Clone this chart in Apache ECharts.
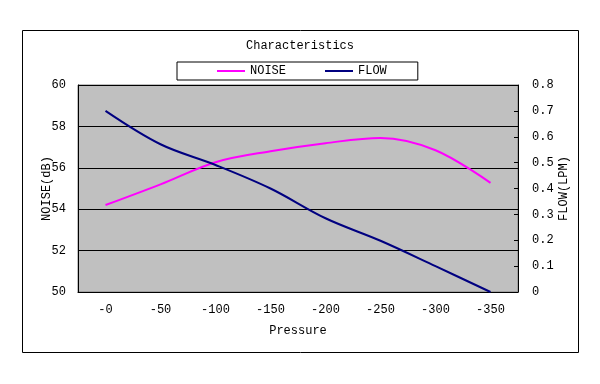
<!DOCTYPE html>
<html>
<head>
<meta charset="utf-8">
<script src="https://cdn.jsdelivr.net/npm/echarts@6/dist/echarts.min.js"></script>
<style>
html,body{margin:0;padding:0;background:#fff;}
#chart{width:600px;height:384px;}
</style>
</head>
<body>
<div id="chart"></div>
<script>
var categories = ['-0', '-50', '-100', '-150', '-200', '-250', '-300', '-350'];
var noise = [54.2, 55.2, 56.27, 56.8, 57.19, 57.44, 56.85, 55.27];
var flow = [0.70, 0.571, 0.491, 0.40, 0.285, 0.198, 0.10, 0.0];

var FONT = '"Liberation Mono", "DejaVu Sans Mono", monospace';
var txt = {color: '#000', fontFamily: FONT, fontSize: 12};

var chart = echarts.init(document.getElementById('chart'), null, {renderer: 'canvas'});
chart.setOption({
  backgroundColor: '#fff',
  animation: false,
  graphic: [{
    type: 'rect', left: 22, top: 30, z: -10,
    shape: {width: 556, height: 322},
    style: {fill: '#fff', stroke: '#000', lineWidth: 1}
  }],
  title: {
    text: 'Characteristics', left: 'center', top: 35,
    textStyle: {color: '#000', fontFamily: FONT, fontSize: 12, fontWeight: 'normal'}
  },
  legend: {
    left: 177, top: 62,
    padding: [3, 31, 3, 40],
    borderColor: '#000', borderWidth: 1,
    itemWidth: 28, itemHeight: 2, itemGap: 39,
    icon: 'rect',
    textStyle: txt,
    data: ['NOISE', 'FLOW']
  },
  grid: {
    left: 78, right: 82, top: 85, bottom: 92,
    show: true, backgroundColor: '#C0C0C0', borderColor: '#808080', borderWidth: 1
  },
  xAxis: {
    type: 'category', data: categories, boundaryGap: true,
    name: 'Pressure', nameLocation: 'middle', nameGap: 33, nameTextStyle: txt,
    nameMoveOverlap: false,
    axisLine: {lineStyle: {color: '#000', width: 1}},
    axisTick: {inside: true, length: 4, lineStyle: {color: '#000'}},
    axisLabel: Object.assign({margin: 12}, txt)
  },
  yAxis: [{
    type: 'value', min: 50, max: 60, interval: 2,
    name: 'NOISE(dB)', nameLocation: 'middle', nameGap: 25, nameRotate: 90, nameTextStyle: txt,
    nameMoveOverlap: false,
    axisLine: {show: true, lineStyle: {color: '#000'}},
    axisTick: {show: false},
    splitLine: {show: true, lineStyle: {color: '#000', width: 1}},
    axisLabel: Object.assign({margin: 12}, txt)
  }, {
    type: 'value', min: 0, max: 0.8, interval: 0.1, position: 'right',
    name: 'FLOW(LPM)', nameLocation: 'middle', nameGap: 40, nameRotate: 90, nameTextStyle: txt,
    nameMoveOverlap: false,
    axisLine: {show: true, lineStyle: {color: '#000'}},
    axisTick: {show: true, inside: true, length: 4, lineStyle: {color: '#000'}},
    splitLine: {show: false},
    axisLabel: Object.assign({margin: 14, formatter: function (v) { return v === 0 ? '0' : v.toFixed(1); }}, txt)
  }],
  series: [{
    name: 'NOISE', type: 'line', yAxisIndex: 0, data: noise,
    smooth: 0.35, symbol: 'none',
    itemStyle: {color: '#FF00FF'},
    lineStyle: {color: '#FF00FF', width: 2}
  }, {
    name: 'FLOW', type: 'line', yAxisIndex: 1, data: flow,
    smooth: 0.35, symbol: 'none',
    itemStyle: {color: '#000080'},
    lineStyle: {color: '#000080', width: 2}
  }]
});
</script>
</body>
</html>
